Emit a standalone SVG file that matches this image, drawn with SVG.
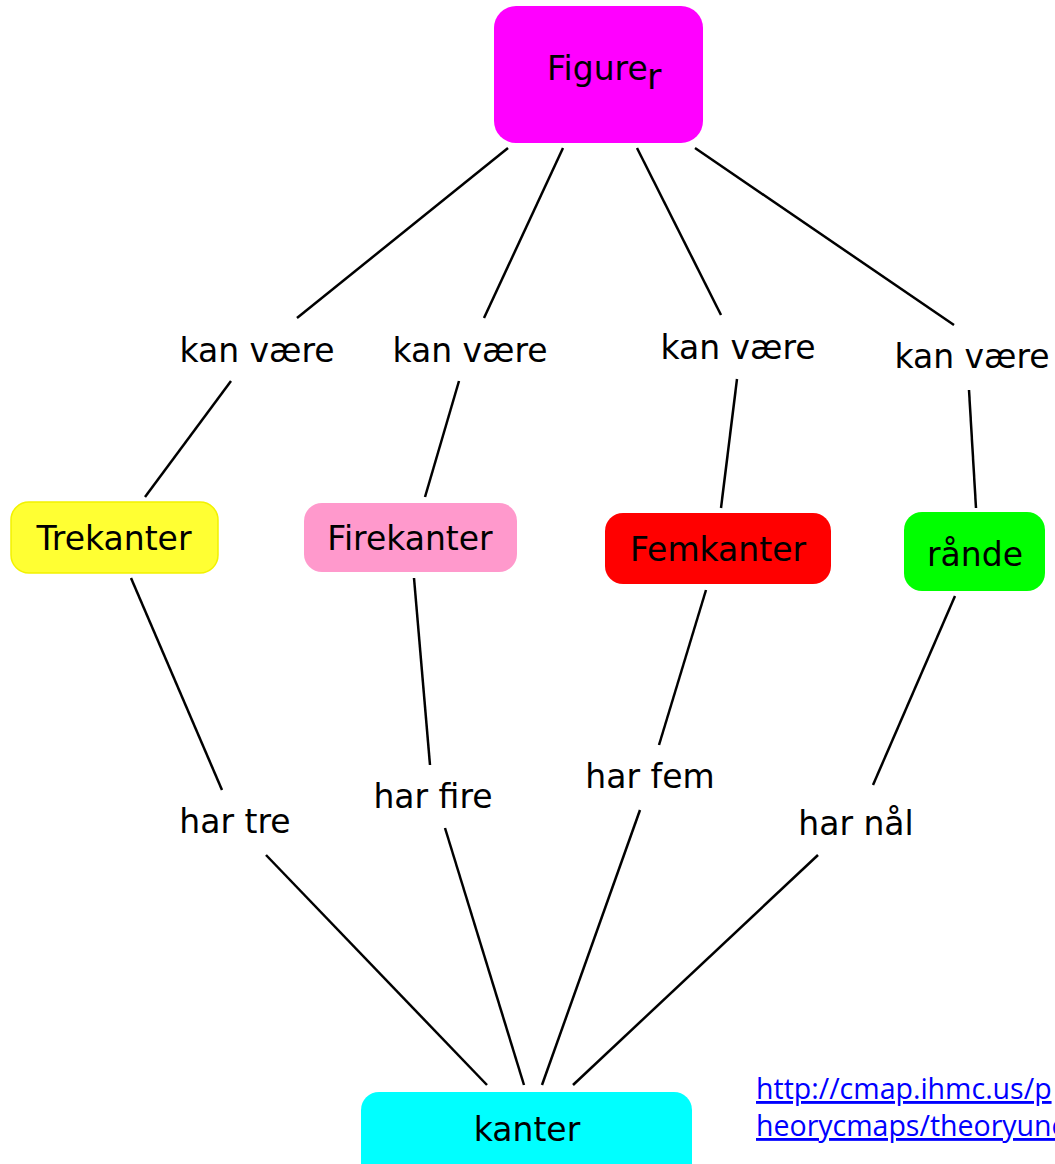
<svg xmlns="http://www.w3.org/2000/svg" width="1055" height="1164" viewBox="0 0 1055 1164">
<style>
.t{font-family:"DejaVu Sans",Verdana,sans-serif;font-size:33px;fill:#000;text-anchor:middle}
.l{stroke:#000;stroke-width:2.5;fill:none;stroke-linecap:butt}
.lnk{font-family:"Open Sans","Liberation Sans",sans-serif;font-size:28.5px;fill:#0000ff;text-decoration:underline}
</style>
<rect width="1055" height="1164" fill="#fff"/>
<g id="connectors">
<line class="l" x1="508" y1="148" x2="297" y2="318"/>
<line class="l" x1="231" y1="381" x2="145" y2="497"/>
<line class="l" x1="563" y1="148" x2="484" y2="318"/>
<line class="l" x1="459" y1="381" x2="425" y2="497"/>
<line class="l" x1="637" y1="148" x2="721" y2="315"/>
<line class="l" x1="737" y1="379" x2="721" y2="508"/>
<line class="l" x1="695" y1="148" x2="954" y2="325"/>
<line class="l" x1="969" y1="390" x2="976" y2="508"/>
<line class="l" x1="131" y1="578" x2="222" y2="790"/>
<line class="l" x1="266" y1="855" x2="487" y2="1085"/>
<line class="l" x1="414" y1="578" x2="430" y2="765"/>
<line class="l" x1="445" y1="828" x2="524" y2="1085"/>
<line class="l" x1="706" y1="590" x2="659" y2="745"/>
<line class="l" x1="640" y1="810" x2="542" y2="1085"/>
<line class="l" x1="955" y1="596" x2="873" y2="785"/>
<line class="l" x1="818" y1="855" x2="573" y2="1085"/>
</g>
<g id="figurer">
<rect x="494" y="6" width="209" height="137" rx="22" fill="#ff00ff"/>
<text class="t" style="text-anchor:start"><tspan x="547" y="80">Figure</tspan><tspan x="647" y="89" style="font-size:35px">r</tspan></text>
</g>
<g id="kv1"><text class="t" x="257" y="362">kan være</text></g>
<g id="kv2"><text class="t" x="470" y="362">kan være</text></g>
<g id="kv3"><text class="t" x="738" y="359">kan være</text></g>
<g id="kv4"><text class="t" x="972" y="368">kan være</text></g>
<g id="trekanter">
<rect x="11" y="502" width="207" height="71" rx="18" fill="#ffff33" stroke="#f2f200" stroke-width="1.5"/>
<text class="t" x="114" y="550">Trekanter</text>
</g>
<g id="firekanter">
<rect x="304" y="503" width="213" height="69" rx="18" fill="#ff99cc"/>
<text class="t" x="410" y="550">Firekanter</text>
</g>
<g id="femkanter">
<rect x="605" y="513" width="226" height="71" rx="18" fill="#ff0000"/>
<text class="t" x="718" y="561">Femkanter</text>
</g>
<g id="raande">
<rect x="904" y="512" width="141" height="79" rx="18" fill="#00ff00"/>
<text class="t" x="975" y="566">rånde</text>
</g>
<g id="har-tre"><text class="t" x="235" y="833">har tre</text></g>
<g id="har-fire"><text class="t" x="433" y="808">har fire</text></g>
<g id="har-fem"><text class="t" x="650" y="788">har fem</text></g>
<g id="har-naal"><text class="t" x="856" y="835">har nål</text></g>
<g id="kanter">
<rect x="361" y="1092" width="331" height="90" rx="18" fill="#00ffff"/>
<text class="t" x="527" y="1141">kanter</text>
</g>
<g id="link">
<text class="lnk" x="756" y="1099">http://cmap.ihmc.us/p</text>
<text class="lnk" x="756" y="1136">heorycmaps/theoryunc</text>
</g>
</svg>
